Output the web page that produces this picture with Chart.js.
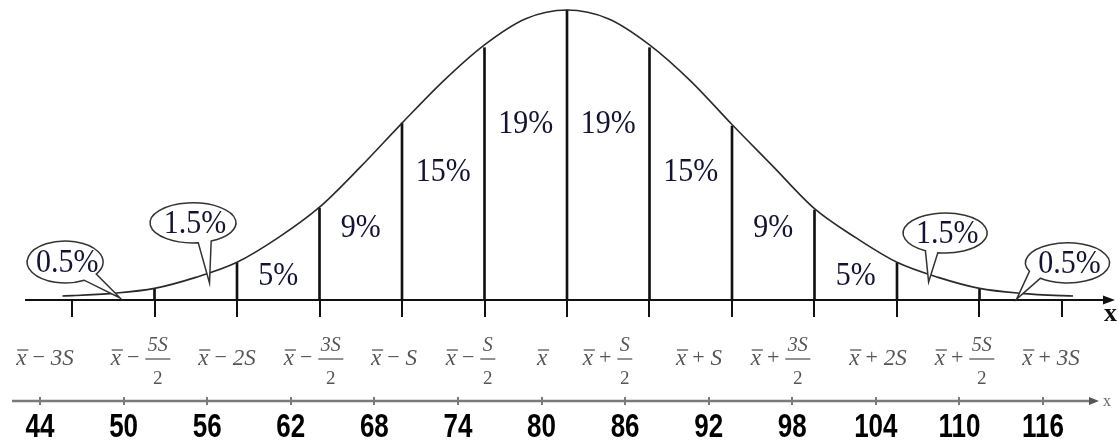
<!DOCTYPE html>
<html lang="en">
<head>
<meta charset="UTF-8">
<title>Normal distribution bands</title>
<script src="https://cdn.jsdelivr.net/npm/chart.js"></script>
<style>
  html, body { margin: 0; padding: 0; background: #fff; overflow: hidden; }
  canvas { display: block; }
</style>
</head>
<body>
<canvas id="bell" width="1118" height="442"></canvas>
<script>
// bell curve (height in % of the peak)
const curveX = [43.3, 44, 47, 50, 53, 56, 59, 62, 65, 68, 71, 74, 77, 80,
                83, 86, 89, 92, 95, 98, 101, 104, 107, 110, 113, 116, 116.8];
const curveY = [1.4, 1.5, 2.3, 4.0, 7.8, 13, 21.5, 32, 46, 61, 75.5, 88, 97, 100,
                97, 88, 75.5, 60.5, 46, 31.5, 21.5, 13, 7.8, 4.0, 2.3, 1.5, 1.4];

// vertical dividers under the curve
const dividerX = [50, 56, 62, 68, 74, 80, 86, 92, 98, 104, 110];
const dividerY = [3.8, 12.8, 31.7, 61, 87, 100, 87, 60, 31, 12.8, 3.8];

// share of each band between 56 and 104
const bandLabels = ['5%', '9%', '15%', '19%', '19%', '15%', '9%', '5%'];
// shares in the callouts on the tails
const tailLabels = ['0.5%', '1.5%', '1.5%', '0.5%'];

// axis ticks
const tickValues = [44, 50, 56, 62, 68, 74, 80, 86, 92, 98, 104, 110, 116];
const symLabels = ['-3S', '-5S/2', '-2S', '-3S/2', '-S', '-S/2', '',
                   '+S/2', '+S', '+3S/2', '+2S', '+5S/2', '+3S'];

// ---- layout (not data) ----
const bandLabelY = [9, 25.5, 44.8, 61.4, 61.4, 44.8, 25.5, 9];
const symNudge = [-26, -14, -9, -6, -7, -14, -25, -42, -32, -34, -18, -15, -10];
const bubbles = [
  { cx: 43.5,  cy: 13.1, rx: 38, ry: 21, a1: 35,  a2: 60,  tip: [47.5, 0.7] },
  { cx: 52.8,  cy: 26.6, rx: 43, ry: 20, a1: 65,  a2: 83,  tip: [54.0, 5.9] },
  { cx: 107.5, cy: 23.1, rx: 42, ry: 20, a1: 100, a2: 118, tip: [106.3, 6.2] },
  { cx: 116.4, cy: 12.8, rx: 42, ry: 20, a1: 130, a2: 155, tip: [112.7, 0.3] }
];
const serif = '"Liberation Serif", "DejaVu Serif", serif';
const pctColor = '#141432';

function arrow(ctx, tipX, y, len, half, color) {
  ctx.fillStyle = color;
  ctx.beginPath();
  ctx.moveTo(tipX, y);
  ctx.lineTo(tipX - len, y - half);
  ctx.lineTo(tipX - len, y + half);
  ctx.closePath();
  ctx.fill();
}

function stretchedText(ctx, text, x, y, sy) {
  ctx.save();
  ctx.translate(x, y);
  ctx.scale(1, sy);
  ctx.fillText(text, 0, 0);
  ctx.restore();
}

// x̄ ± term, with a fraction when the term has a '/'
function drawSym(ctx, label, cx, base) {
  const op = label ? (label[0] === '-' ? '\u2212' : '+') : '';
  const rest = label.slice(1);
  const parts = rest.split('/');
  const big = 'italic 23px ' + serif, small = 'italic 20px ' + serif;
  ctx.font = big;
  const wx = ctx.measureText('x').width;
  ctx.font = '22px ' + serif;
  const wop = op ? ctx.measureText(op).width : 0;
  let wt = 0;
  if (parts.length === 2) {
    ctx.font = small;
    wt = Math.max(ctx.measureText(parts[0]).width, ctx.measureText(parts[1]).width) + 5;
  } else if (rest) {
    ctx.font = big;
    wt = ctx.measureText(rest).width + 2;
  }
  const gap = op ? 6 : 0;
  const total = wx + (op ? gap + wop + gap + wt : 0);
  let x0 = cx - total / 2;
  ctx.textAlign = 'left';
  ctx.textBaseline = 'alphabetic';
  ctx.font = big;
  ctx.fillText('x', x0, base);
  ctx.lineWidth = 1.3;
  ctx.beginPath();
  ctx.moveTo(x0 + 1, base - 15);
  ctx.lineTo(x0 + wx + 2, base - 15);
  ctx.stroke();
  if (!op) return;
  x0 += wx + gap;
  ctx.font = '22px ' + serif;
  ctx.fillText(op, x0, base - 1);
  x0 += wop + gap;
  if (parts.length === 2) {
    ctx.textAlign = 'center';
    ctx.font = small;
    ctx.fillText(parts[0], x0 + wt / 2, base - 14);
    ctx.font = '19px ' + serif;
    ctx.fillText(parts[1], x0 + wt / 2, base + 19);
    ctx.beginPath();
    ctx.moveTo(x0, base - 6);
    ctx.lineTo(x0 + wt, base - 6);
    ctx.stroke();
  } else {
    ctx.font = big;
    ctx.fillText(rest, x0, base);
  }
}

const decorations = {
  id: 'decorations',
  beforeDatasetsDraw(chart) {
    const ctx = chart.ctx;
    const xs = chart.scales.x, ys = chart.scales.y, xb = chart.scales.x2;
    const y0 = Math.round(ys.getPixelForValue(0));
    ctx.save();

    // main axis with ticks
    ctx.strokeStyle = '#111';
    ctx.lineWidth = 2;
    ctx.beginPath();
    ctx.moveTo(25, y0);
    ctx.lineTo(1104, y0);
    ctx.stroke();
    arrow(ctx, 1115, y0, 12, 4.5, '#111');
    tickValues.forEach(v => {
      const p = Math.round(xs.getPixelForValue(v));
      ctx.beginPath();
      ctx.moveTo(p, y0);
      ctx.lineTo(p, y0 + 17);
      ctx.stroke();
    });
    ctx.fillStyle = '#111';
    ctx.font = 'bold 26px ' + serif;
    ctx.textAlign = 'left';
    ctx.fillText('x', 1104, y0 + 21);

    // x̄ ± kS labels
    ctx.fillStyle = '#555';
    ctx.strokeStyle = '#555';
    symLabels.forEach((s, i) => {
      drawSym(ctx, s, xs.getPixelForValue(tickValues[i]) + symNudge[i], y0 + 65);
    });

    // lower number axis
    const yb = 401;
    ctx.strokeStyle = '#7a7a7a';
    ctx.lineWidth = 2.5;
    ctx.beginPath();
    ctx.moveTo(12, yb);
    ctx.lineTo(1090, yb);
    ctx.stroke();
    arrow(ctx, 1099, yb, 10, 4, '#555');
    ctx.lineWidth = 2;
    tickValues.forEach(v => {
      const p = Math.round(xb.getPixelForValue(v));
      ctx.beginPath();
      ctx.moveTo(p, yb - 4);
      ctx.lineTo(p, yb + 4);
      ctx.stroke();
    });
    ctx.fillStyle = '#666';
    ctx.font = '16px ' + serif;
    ctx.textAlign = 'left';
    ctx.fillText('x', 1103, yb + 5);

    ctx.fillStyle = '#000';
    ctx.font = 'bold 26px "Liberation Sans", Arial, sans-serif';
    ctx.textAlign = 'center';
    tickValues.forEach(v => {
      stretchedText(ctx, String(v), xb.getPixelForValue(v), 437, 1.28);
    });
    ctx.restore();
  },
  afterDatasetsDraw(chart) {
    const ctx = chart.ctx;
    const xs = chart.scales.x, ys = chart.scales.y;
    ctx.save();

    // band shares
    ctx.fillStyle = pctColor;
    ctx.font = '30px ' + serif;
    ctx.textAlign = 'center';
    ctx.textBaseline = 'alphabetic';
    bandLabels.forEach((t, i) => {
      const mid = (dividerX[i + 1] + dividerX[i + 2]) / 2;
      stretchedText(ctx, t, xs.getPixelForValue(mid), ys.getPixelForValue(bandLabelY[i]) + 11, 1.12);
    });

    // callouts
    const rad = d => d * Math.PI / 180;
    bubbles.forEach((b, i) => {
      const cx = xs.getPixelForValue(b.cx), cy = ys.getPixelForValue(b.cy);
      const tx = xs.getPixelForValue(b.tip[0]), ty = ys.getPixelForValue(b.tip[1]);
      ctx.beginPath();
      ctx.ellipse(cx, cy, b.rx, b.ry, 0, rad(b.a2), rad(b.a1) + Math.PI * 2, false);
      ctx.lineTo(tx, ty);
      ctx.closePath();
      ctx.fillStyle = '#fff';
      ctx.fill();
      ctx.strokeStyle = '#333';
      ctx.lineWidth = 1.5;
      ctx.stroke();
      ctx.fillStyle = pctColor;
      stretchedText(ctx, tailLabels[i], cx + 2, cy + 10, 1.12);
    });
    ctx.restore();
  }
};

new Chart(document.getElementById('bell'), {
  type: 'line',
  data: {
    datasets: [
      {
        type: 'line',
        data: curveX.map((x, i) => ({ x, y: curveY[i] })),
        borderColor: '#2a2a2a',
        borderWidth: 1.6,
        pointRadius: 0,
        cubicInterpolationMode: 'monotone',
        fill: false,
        clip: false
      },
      {
        type: 'bar',
        data: dividerX.map((x, i) => ({ x, y: dividerY[i] })),
        backgroundColor: '#111',
        barThickness: 2,
        clip: false
      }
    ]
  },
  options: {
    responsive: false,
    animation: false,
    events: [],
    layout: { padding: { left: 12, right: 18, top: 10, bottom: 142 } },
    plugins: { legend: { display: false }, tooltip: { enabled: false } },
    scales: {
      x: { type: 'linear', min: 39.636, max: 118.764, offset: false, display: false },
      x2: { type: 'linear', min: 41.99, max: 120.09, offset: false, display: false },
      y: { type: 'linear', min: 0, max: 100, display: false }
    }
  },
  plugins: [decorations]
});
</script>
</body>
</html>
